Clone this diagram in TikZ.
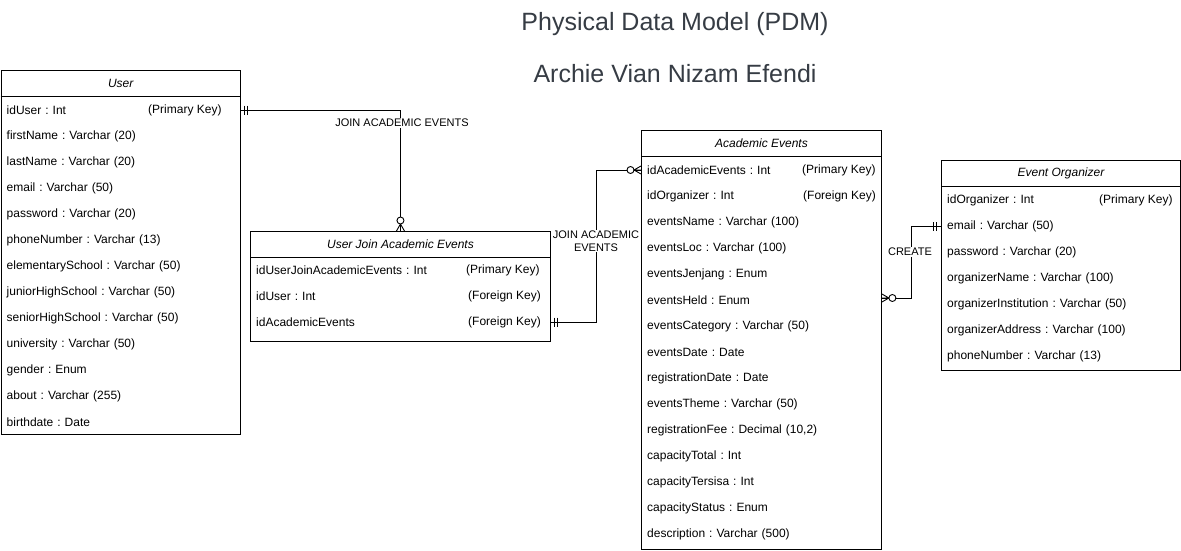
\documentclass[tikz,border=0pt]{standalone}
\usepackage{fontspec}
\setmainfont{Liberation Sans}
\usetikzlibrary{calc}
\definecolor{titlecol}{RGB}{54,60,68}
\frenchspacing
\begin{document}
\begin{tikzpicture}[x=1pt,y=-1pt,
  tbl/.style={draw=black, line width=0.9pt, inner sep=0pt, anchor=north west},
  hdr/.style={font=\fontsize{12}{14}\selectfont\itshape, inner sep=0pt},
  fld/.style={font=\fontsize{12}{14}\selectfont, anchor=west, align=left, inner xsep=6pt, inner ysep=0pt, minimum height=26pt},
  keytxt/.style={font=\fontsize{12}{14}\selectfont, anchor=west, inner sep=0pt},
  sep/.style={draw=black, line width=0.9pt},
  rel/.style={draw=black, line width=0.9pt},
  lbl/.style={font=\fontsize{11}{13}\selectfont, fill=white, inner sep=1pt, align=center},
  ttl/.style={font=\fontsize{25}{28}\selectfont, text=titlecol},
  zmany/.pic={\draw[line width=0.9pt] (0,-4)--(7,0)--(0,4) (0,0)--(7,0);
              \draw[line width=0.9pt, fill=white] (10.5,0) circle (3.5);},
  mone/.pic={\draw[line width=0.9pt] (4.5,-4.5)--(4.5,4.5) (7.5,-4.5)--(7.5,4.5);}
]
\useasboundingbox (0,0) rectangle (1181,551);

% titles
\node[ttl] (title1) at (675,24) {Physical Data Model (PDM)};
\node[ttl] (title2) at (675,74) {Archie Vian Nizam Efendi};

% ---------- User ----------
\node[tbl, minimum width=239.5pt, minimum height=364pt] (user) at (0.5,70) {};
\draw[sep] ($(user.north west)+(0,26)$) -- ($(user.north east)+(0,26)$);
\node[hdr] (userh) at ($(user.north)+(0,13)$) {User};
\foreach \t [count=\i] in {{idUser : Int},{firstName : Varchar (20)},{lastName : Varchar (20)},{email : Varchar (50)},{password : Varchar (20)},{phoneNumber : Varchar (13)},{elementarySchool : Varchar (50)},{juniorHighSchool : Varchar (50)},{seniorHighSchool : Varchar (50)},{university : Varchar (50)},{gender : Enum},{about : Varchar (255)},{birthdate : Date}}
  \node[fld, text width=227.5pt] (u\i) at (0.5,{110+26*(\i-1)}) {\t};
\node[keytxt] (ukey1) at (148,110) {(Primary Key)};

% ---------- User Join Academic Events ----------
\node[tbl, minimum width=300pt, minimum height=110pt] (uj) at (250,231) {};
\draw[sep] ($(uj.north west)+(0,26)$) -- ($(uj.north east)+(0,26)$);
\node[hdr] (ujh) at ($(uj.north)+(0,13)$) {User Join Academic Events};
\foreach \t [count=\i] in {{idUserJoinAcademicEvents : Int},{idUser : Int},{idAcademicEvents}}
  \node[fld, text width=288pt] (uj\i) at (250,{270+26*(\i-1)}) {\t};
\node[keytxt] (ujkey1) at (466,270) {(Primary Key)};
\node[keytxt] (ujkey2) at (468,296) {(Foreign Key)};
\node[keytxt] (ujkey3) at (468,322) {(Foreign Key)};

% ---------- Academic Events ----------
\node[tbl, minimum width=240pt, minimum height=419pt] (ae) at (641,130) {};
\draw[sep] ($(ae.north west)+(0,26)$) -- ($(ae.north east)+(0,26)$);
\node[hdr] (aeh) at ($(ae.north)+(0,13)$) {Academic Events};
\foreach \t [count=\i] in {{idAcademicEvents : Int},{idOrganizer : Int},{eventsName : Varchar (100)},{eventsLoc : Varchar (100)},{eventsJenjang : Enum},{eventsHeld : Enum},{eventsCategory : Varchar (50)},{eventsDate : Date},{registrationDate : Date},{eventsTheme : Varchar (50)},{registrationFee : Decimal (10,2)},{capacityTotal : Int},{capacityTersisa : Int},{capacityStatus : Enum},{description : Varchar (500)}}
  \node[fld, text width=228pt] (ae\i) at (641,{170+26*(\i-1)}) {\t};
\node[keytxt] (aekey1) at (802,170) {(Primary Key)};
\node[keytxt] (aekey2) at (803,196) {(Foreign Key)};

% ---------- Event Organizer ----------
\node[tbl, minimum width=239pt, minimum height=210pt] (eo) at (941,160) {};
\draw[sep] ($(eo.north west)+(0,26)$) -- ($(eo.north east)+(0,26)$);
\node[hdr] (eoh) at ($(eo.north)+(0,13)$) {Event Organizer};
\foreach \t [count=\i] in {{idOrganizer : Int},{email : Varchar (50)},{password : Varchar (20)},{organizerName : Varchar (100)},{organizerInstitution : Varchar (50)},{organizerAddress : Varchar (100)},{phoneNumber : Varchar (13)}}
  \node[fld, text width=227pt] (eo\i) at (941,{200+26*(\i-1)}) {\t};
\node[keytxt] (eokey1) at (1099,200) {(Primary Key)};

% ---------- relationships ----------
% User -> User Join Academic Events
\draw[rel] (u1.east) -| (uj.north);
\node[lbl] (l1) at (402,123) {JOIN ACADEMIC EVENTS};
\pic at (u1.east) {mone};
\pic[rotate=90] at (uj.north) {zmany};

% User Join Academic Events -> Academic Events
\draw[rel] (uj3.east) -- ++(46,0) |- (ae1.west);
\node[lbl] (l2) at (596,241) {JOIN ACADEMIC\\EVENTS};
\pic at (uj3.east) {mone};
\pic[rotate=180] at (ae1.west) {zmany};

% Event Organizer -> Academic Events
\coordinate (aeIn) at (ae.east |- 0,298);
\draw[rel] (eo2.west) -- ++(-30,0) |- (aeIn);
\node[lbl] (l3) at (910,252) {CREATE};
\pic[rotate=180] at (eo2.west) {mone};
\pic at (aeIn) {zmany};

\end{tikzpicture}
\end{document}
